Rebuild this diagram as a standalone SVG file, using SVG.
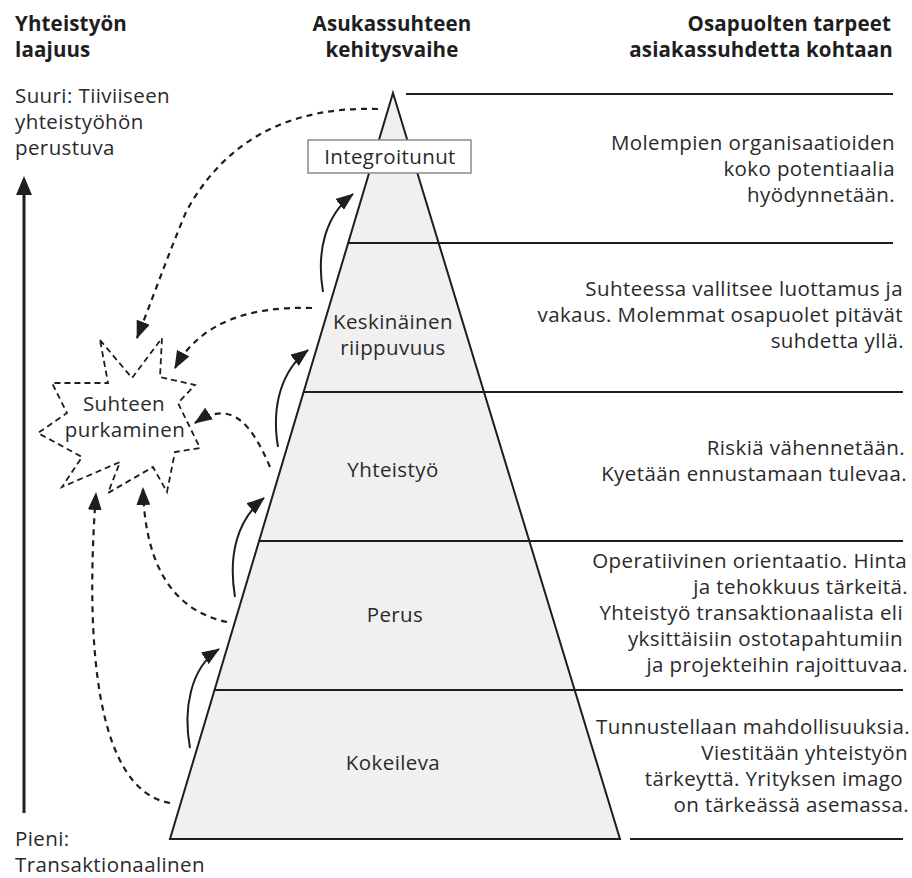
<svg xmlns="http://www.w3.org/2000/svg" width="912" height="878" viewBox="0 0 912 878">
<style>
text{font-family:"Open Sans","Noto Sans","Liberation Sans",sans-serif;fill:#2a2a2a}
.h{font-size:20.5px;font-weight:bold;fill:#1e1e1e;letter-spacing:0.15px}
.t{font-size:20.5px;letter-spacing:0.4px}
.r{text-anchor:end}
.c{text-anchor:middle}
.ln{stroke:#1e1e1e;stroke-width:2;fill:none}
.solid{stroke:#1e1e1e;stroke-width:2;fill:none;marker-end:url(#ah)}
.dash{stroke:#1e1e1e;stroke-width:2.2;fill:none;stroke-dasharray:6 5;marker-end:url(#ah)}
</style>
<defs>
<marker id="ah" viewBox="0 0 18 14" refX="17" refY="7" markerWidth="18" markerHeight="14" markerUnits="userSpaceOnUse" orient="auto">
<path d="M0,0 L18,7 L0,14 z" fill="#1e1e1e"/>
</marker>
</defs>
<rect width="912" height="878" fill="#ffffff"/>

<g id="headers">
<text class="h" x="15" y="31">Yhteistyön</text>
<text class="h" x="15" y="57">laajuus</text>
<text class="h c" x="392" y="31">Asukassuhteen</text>
<text class="h c" x="392" y="57">kehitysvaihe</text>
<text class="h r" x="891" y="31">Osapuolten tarpeet</text>
<text class="h r" x="893" y="57">asiakassuhdetta kohtaan</text>
</g>

<g id="axis">
<line x1="24" y1="192" x2="24" y2="813" stroke="#1e1e1e" stroke-width="3"/>
<path d="M24,176 L32,195 L16,195 z" fill="#1e1e1e"/>
<text class="t" x="15" y="103">Suuri: Tiiviiseen</text>
<text class="t" x="15" y="129">yhteistyöhön</text>
<text class="t" x="15" y="155">perustuva</text>
<text class="t" x="15" y="846">Pieni:</text>
<text class="t" x="15" y="872">Transaktionaalinen</text>
</g>

<g id="pyramid">
<path d="M393,93 L620,839 L170,839 Z" fill="#f0f0f0" stroke="#1e1e1e" stroke-width="2" stroke-linejoin="miter"/>
<line class="ln" x1="406" y1="94" x2="893" y2="94"/>
<line class="ln" x1="348" y1="243" x2="893" y2="243"/>
<line class="ln" x1="304" y1="392" x2="903" y2="392"/>
<line class="ln" x1="259" y1="541" x2="903" y2="541"/>
<line class="ln" x1="215" y1="690" x2="903" y2="690"/>
<line class="ln" x1="630" y1="839" x2="903" y2="839"/>
</g>

<g id="level-integroitunut">
<rect x="308" y="140" width="163" height="33" fill="#ffffff" stroke="#8a8a8a" stroke-width="1.5"/>
<text class="t c" x="390" y="164">Integroitunut</text>
<text class="t r" x="895" y="150">Molempien organisaatioiden</text>
<text class="t r" x="895" y="176">koko potentiaalia</text>
<text class="t r" x="895" y="202">hyödynnetään.</text>
</g>

<g id="level-keskinainen">
<text class="t c" x="393" y="329">Keskinäinen</text>
<text class="t c" x="393" y="355">riippuvuus</text>
<text class="t r" x="903" y="296">Suhteessa vallitsee luottamus ja</text>
<text class="t r" x="903" y="322">vakaus. Molemmat osapuolet pitävät</text>
<text class="t r" x="904" y="348">suhdetta yllä.</text>
</g>

<g id="level-yhteistyo">
<text class="t c" x="393" y="477">Yhteistyö</text>
<text class="t r" x="905" y="455">Riskiä vähennetään.</text>
<text class="t r" x="907" y="481">Kyetään ennustamaan tulevaa.</text>
</g>

<g id="level-perus">
<text class="t c" x="395" y="622">Perus</text>
<text class="t r" x="907" y="568">Operatiivinen orientaatio. Hinta</text>
<text class="t r" x="908" y="594">ja tehokkuus tärkeitä.</text>
<text class="t r" x="903" y="620">Yhteistyö transaktionaalista eli</text>
<text class="t r" x="903" y="646">yksittäisiin ostotapahtumiin</text>
<text class="t r" x="908" y="672">ja projekteihin rajoittuvaa.</text>
</g>

<g id="level-kokeileva">
<text class="t c" x="393" y="770">Kokeileva</text>
<text class="t r" x="910" y="734">Tunnustellaan mahdollisuuksia.</text>
<text class="t r" x="908" y="760">Viestitään yhteistyön</text>
<text class="t r" x="903" y="786">tärkeyttä. Yrityksen imago</text>
<text class="t r" x="909" y="812">on tärkeässä asemassa.</text>
</g>

<g id="purkaminen">
<polygon points="100,340 132,378 162,338 160,377 195,385 178,403 200,448 175,452 167,492 153,467 108,493 120,462 62,487 82,457 38,433 67,413 52,383 108,383" fill="none" stroke="#1e1e1e" stroke-width="1.8" stroke-dasharray="6 4" stroke-linejoin="miter"/>
<text class="t c" x="124" y="411">Suhteen</text>
<text class="t c" x="125" y="437">purkaminen</text>
</g>

<g id="connectors">
<path class="solid" d="M190,748 C183,710 190,668 219,649"/>
<path class="solid" d="M235,597 C228,555 237,520 264,498"/>
<path class="solid" d="M278,447 C271,405 282,370 308,350"/>
<path class="solid" d="M323,292 C316,250 326,215 353,194"/>
<path class="dash" d="M378,109 C290,106 225,140 186,212 C168,255 152,300 137,338"/>
<path class="dash" d="M312,308 C250,306 200,322 175,368"/>
<path class="dash" d="M270,467 C252,425 232,398 195,423"/>
<path class="dash" d="M227,622 C180,612 145,575 143,488"/>
<path class="dash" d="M170,803 C95,790 85,640 96,493"/>
</g>
</svg>
